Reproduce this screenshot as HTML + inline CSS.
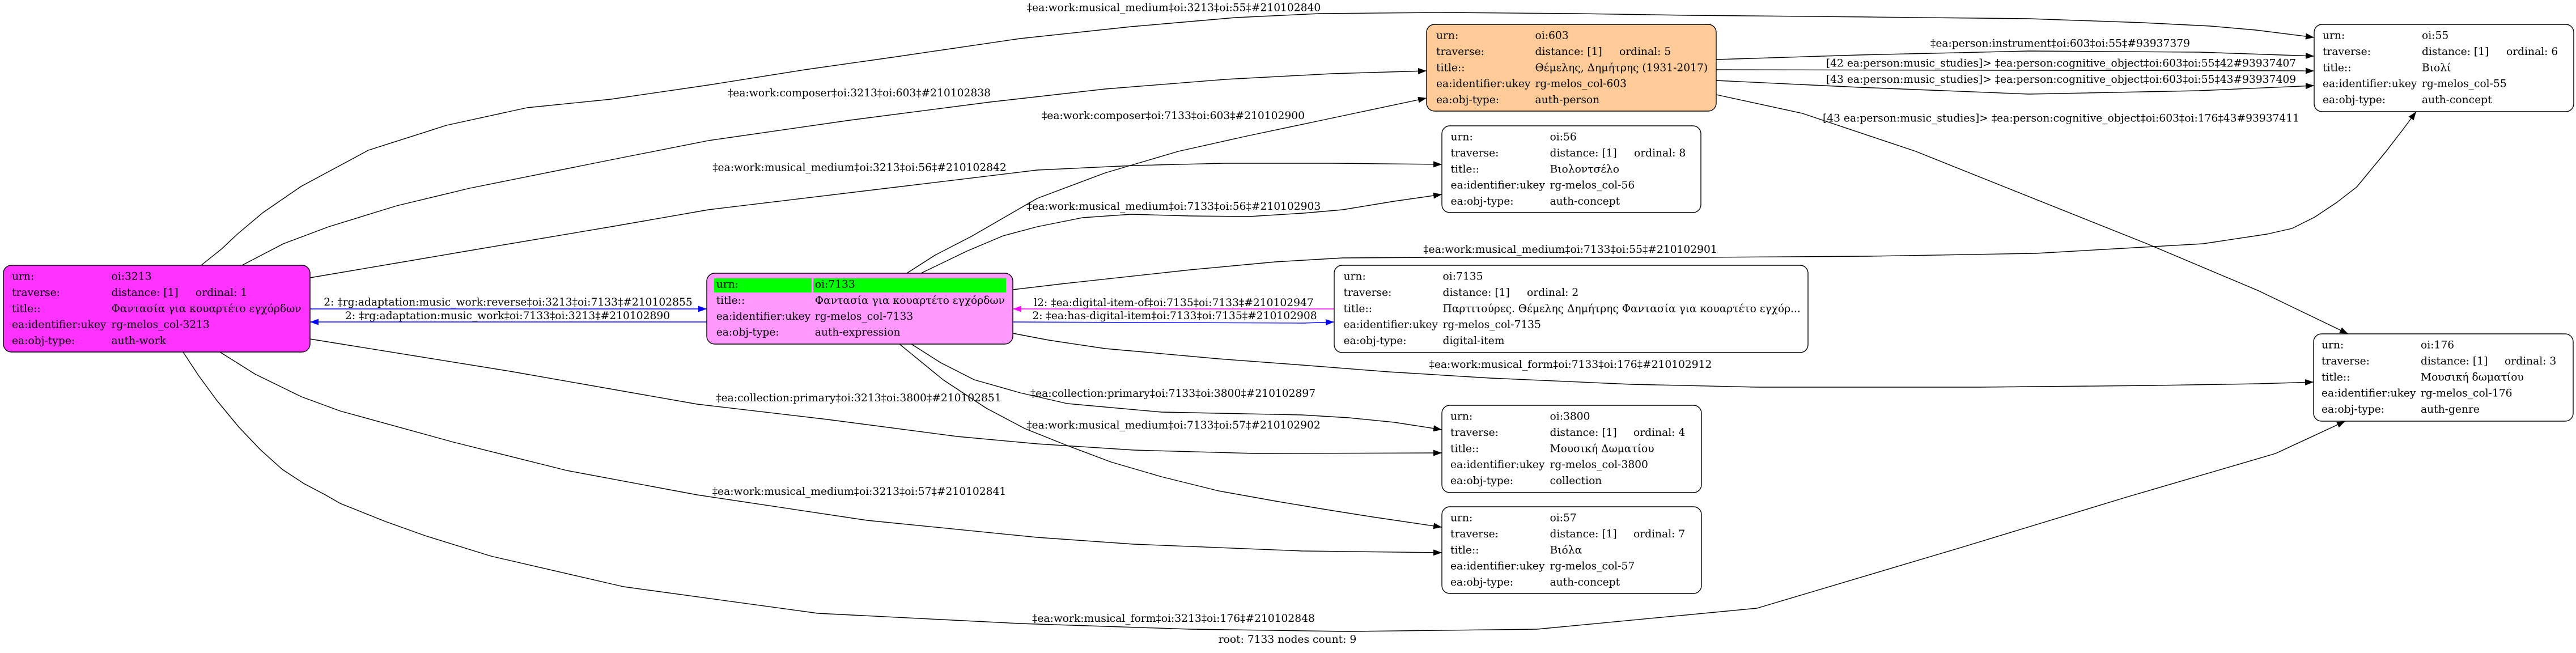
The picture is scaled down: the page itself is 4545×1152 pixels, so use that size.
<!DOCTYPE html>
<html>
<head>
<meta charset="utf-8">
<style>
  html, body { margin: 0; padding: 0; background: #ffffff; }
  svg { display: block; }
  text { font-family: "DejaVu Serif", "Liberation Serif", serif; font-size: 18.67px; fill: #000; }
  .e { fill: none; stroke: #000; stroke-width: 1.4; stroke-linejoin: round; }
  .n { stroke: #000; stroke-width: 1.4; }
  .m { text-anchor: middle; }
</style>
</head>
<body>
<svg width="4545" height="1152" viewBox="0 0 4545 1152" xmlns="http://www.w3.org/2000/svg">
  <defs>
    <marker id="ab" markerUnits="userSpaceOnUse" markerWidth="15" markerHeight="11" refX="15" refY="5.5" orient="auto">
      <path d="M0,0 L15,5.5 L0,11 z" fill="#000"/>
    </marker>
    <marker id="abl" markerUnits="userSpaceOnUse" markerWidth="15" markerHeight="11" refX="15" refY="5.5" orient="auto">
      <path d="M0,0 L15,5.5 L0,11 z" fill="#0000ff"/>
    </marker>
    <marker id="amg" markerUnits="userSpaceOnUse" markerWidth="15" markerHeight="11" refX="15" refY="5.5" orient="auto">
      <path d="M0,0 L15,5.5 L0,11 z" fill="#ff00ff"/>
    </marker>
  </defs>
  <rect x="0" y="0" width="4545" height="1152" fill="#fff"/>

  <!-- ========== EDGES ========== -->
  <path class="e" marker-end="url(#ab)" d="M355,468 L390,440 L420,412 L464,375 L531,329 L650,265 L788,221 L930,190 L1078,175 L1250,150 L1420,123 L1582,100 L1800,68 L1996,47 L2180,31 L2328,24 L2550,22 L2780,24 L2980,27 L3300,30 L3580,33 L3780,40 L3900,46 L3980,53 L4083,66"/>
  <path class="e" marker-end="url(#ab)" d="M427,468 L500,430 L580,400 L700,363 L829,332 L1078,282 L1250,248 L1500,212 L1747,180 L1950,157 L2162,140 L2350,130 L2517,125"/>
  <path class="e" marker-end="url(#ab)" d="M547,490 L700,464 L829,442 L1078,400 L1250,370 L1582,330 L1830,300 L2000,292 L2162,288 L2350,288 L2544,290"/>
  <path class="e" marker-end="url(#ab)" d="M1600,482 L1650,450 L1714,417 L1830,350 L1950,305 L2079,267 L2200,240 L2328,213 L2517,173"/>
  <path class="e" marker-end="url(#ab)" d="M1625,482 L1706,443 L1770,416 L1830,400 L1910,384 L1996,378 L2100,381 L2204,382 L2300,376 L2369,370 L2460,355 L2544,343"/>
  <path class="e" marker-end="url(#ab)" d="M1787,511 L1880,500 L2100,476 L2250,462 L2369,455 L2550,454 L3000,454 L3300,452 L3591,447 L3887,430 L4000,413 L4044,403 L4084,383 L4123,357 L4158,330 L4210,267 L4240,228 L4263,197"/>
  <path class="e" marker-end="url(#ab)" d="M1787,588 L1850,600 L1950,615 L2007,620 L2150,633 L2297,644 L2450,656 L2629,667 L2878,678 L3100,683 L3493,683 L3800,680 L3985,677 L4082,674"/>
  <path class="e" marker-end="url(#ab)" d="M1608,607 L1660,640 L1719,670 L1800,693 L1883,712 L2049,727 L2297,732 L2380,737 L2460,745 L2544,758"/>
  <path class="e" marker-end="url(#ab)" d="M1587,607 L1664,670 L1740,720 L1808,756 L1883,786 L1960,815 L2049,841 L2150,866 L2256,885 L2340,899 L2422,912 L2544,930"/>
  <path class="e" marker-end="url(#ab)" d="M547,598 L900,655 L1230,713 L1460,740 L1689,770 L1830,783 L2000,794 L2215,800 L2544,799"/>
  <path class="e" marker-end="url(#ab)" d="M388,621 L450,660 L532,700 L600,725 L800,780 L1000,830 L1230,873 L1530,918 L1830,948 L2000,960 L2297,972 L2544,975"/>
  <path class="e" marker-end="url(#ab)" d="M323,621 L350,662 L383,707 L421,753 L459,793 L498,828 L536,853 L574,873 L600,888 L680,920 L750,945 L866,981 L1100,1035 L1443,1082 L1800,1100 L2100,1110 L2380,1114 L2712,1110 L3100,1073 L3463,965 L3752,877 L4015,800 L4138,743"/>
  <path class="e" marker-end="url(#ab)" d="M3028,105 L3280,97 L3580,90 L3880,92 L4083,99"/>
  <path class="e" marker-end="url(#ab)" d="M3028,123 L4083,125"/>
  <path class="e" marker-end="url(#ab)" d="M3028,142 L3280,154 L3580,166 L3880,160 L4083,151"/>
  <path class="e" marker-end="url(#ab)" d="M3028,167 L3180,200 L3380,267 L3550,335 L3788,430 L3985,513 L4143,589"/>

  <path class="e" style="stroke:#0000ff" marker-end="url(#abl)" d="M547,545 L1247,545"/>
  <path class="e" style="stroke:#0000ff" marker-end="url(#abl)" d="M1247,568 L547,568"/>
  <path class="e" style="stroke:#ff00ff" marker-end="url(#amg)" d="M2354,545 L1787,545"/>
  <path class="e" style="stroke:#0000ff" marker-end="url(#abl)" d="M1787,568 L2300,570 L2354,568"/>

  <!-- ========== EDGE LABELS ========== -->
  <text class="m" x="2071" y="19.5">‡ea:work:musical_medium‡oi:3213‡oi:55‡#210102840</text>
  <text class="m" x="1516" y="170">‡ea:work:composer‡oi:3213‡oi:603‡#210102838</text>
  <text class="m" x="2070" y="210">‡ea:work:composer‡oi:7133‡oi:603‡#210102900</text>
  <text class="m" x="1516.5" y="301.7">‡ea:work:musical_medium‡oi:3213‡oi:56‡#210102842</text>
  <text class="m" x="2071" y="370">‡ea:work:musical_medium‡oi:7133‡oi:56‡#210102903</text>
  <text class="m" x="2770.5" y="446">‡ea:work:musical_medium‡oi:7133‡oi:55‡#210102901</text>
  <text class="m" x="896.5" y="539">2: ‡rg:adaptation:music_work:reverse‡oi:3213‡oi:7133‡#210102855</text>
  <text class="m" x="895.5" y="563">2: ‡rg:adaptation:music_work‡oi:7133‡oi:3213‡#210102890</text>
  <text class="m" x="2071" y="540">l2: ‡ea:digital-item-of‡oi:7135‡oi:7133‡#210102947</text>
  <text class="m" x="2072.5" y="563">2: ‡ea:has-digital-item‡oi:7133‡oi:7135‡#210102908</text>
  <text class="m" x="2771" y="649">‡ea:work:musical_form‡oi:7133‡oi:176‡#210102912</text>
  <text class="m" x="2069.5" y="700">‡ea:collection:primary‡oi:7133‡oi:3800‡#210102897</text>
  <text class="m" x="1515" y="708">‡ea:collection:primary‡oi:3213‡oi:3800‡#210102851</text>
  <text class="m" x="2070.5" y="756">‡ea:work:musical_medium‡oi:7133‡oi:57‡#210102902</text>
  <text class="m" x="1516" y="873">‡ea:work:musical_medium‡oi:3213‡oi:57‡#210102841</text>
  <text class="m" x="2070.5" y="1097">‡ea:work:musical_form‡oi:3213‡oi:176‡#210102848</text>
  <text class="m" x="3635" y="82.5">‡ea:person:instrument‡oi:603‡oi:55‡#93937379</text>
  <text class="m" x="3636.5" y="117.5">[42 ea:person:music_studies]&gt; ‡ea:person:cognitive_object‡oi:603‡oi:55‡42#93937407</text>
  <text class="m" x="3636.5" y="146">[43 ea:person:music_studies]&gt; ‡ea:person:cognitive_object‡oi:603‡oi:55‡43#93937409</text>
  <text class="m" x="3636.5" y="214.5">[43 ea:person:music_studies]&gt; ‡ea:person:cognitive_object‡oi:603‡oi:176‡43#93937411</text>
  <text class="m" x="2271.5" y="1134">root: 7133 nodes count: 9</text>

  <!-- ========== NODES ========== -->
  <rect class="n" x="6" y="468" width="541" height="153" rx="14" fill="#ff33ff"/>
  <text x="21" y="493.7">urn:</text><text x="196.5" y="493.7">oi:3213</text>
  <text x="21" y="522">traverse:</text><text x="196.5" y="522">distance: [1]</text><text x="345" y="522">ordinal: 1</text>
  <text x="21" y="550.3">title::</text><text x="196.5" y="550.3">Φαντασία για κουαρτέτο εγχόρδων</text>
  <text x="21" y="578.6">ea:identifier:ukey</text><text x="196.5" y="578.6">rg-melos_col-3213</text>
  <text x="21" y="606.9">ea:obj-type:</text><text x="196.5" y="606.9">auth-work</text>

  <rect class="n" x="1247" y="482" width="540" height="125" rx="14" fill="#ff99ff"/>
  <rect x="1260" y="491" width="172" height="25" fill="#00ff00"/>
  <rect x="1435" y="491" width="340" height="25" fill="#00ff00"/>
  <text x="1263.7" y="507.7">urn:</text><text x="1437.8" y="507.7">oi:7133</text>
  <text x="1263.7" y="536">title::</text><text x="1437.8" y="536">Φαντασία για κουαρτέτο εγχόρδων</text>
  <text x="1263.7" y="564">ea:identifier:ukey</text><text x="1437.8" y="564">rg-melos_col-7133</text>
  <text x="1263.7" y="592">ea:obj-type:</text><text x="1437.8" y="592">auth-expression</text>

  <rect class="n" x="2517" y="43" width="511" height="153" rx="14" fill="#ffcc99"/>
  <text x="2534" y="68.7">urn:</text><text x="2708.5" y="68.7">oi:603</text>
  <text x="2534" y="97">traverse:</text><text x="2708.5" y="97">distance: [1]</text><text x="2857" y="97">ordinal: 5</text>
  <text x="2534" y="125.3">title::</text><text x="2708.5" y="125.3">Θέμελης, Δημήτρης (1931-2017)</text>
  <text x="2534" y="153.6">ea:identifier:ukey</text><text x="2708.5" y="153.6">rg-melos_col-603</text>
  <text x="2534" y="181.9">ea:obj-type:</text><text x="2708.5" y="181.9">auth-person</text>

  <rect class="n" x="2544" y="222" width="457" height="153" rx="14" fill="#fff"/>
  <text x="2559.5" y="247.7">urn:</text><text x="2734.5" y="247.7">oi:56</text>
  <text x="2559.5" y="276">traverse:</text><text x="2734.5" y="276">distance: [1]</text><text x="2883" y="276">ordinal: 8</text>
  <text x="2559.5" y="304.3">title::</text><text x="2734.5" y="304.3">Βιολοντσέλο</text>
  <text x="2559.5" y="332.6">ea:identifier:ukey</text><text x="2734.5" y="332.6">rg-melos_col-56</text>
  <text x="2559.5" y="360.9">ea:obj-type:</text><text x="2734.5" y="360.9">auth-concept</text>

  <rect class="n" x="2354" y="468" width="836" height="154" rx="14" fill="#fff"/>
  <text x="2370.5" y="493.7">urn:</text><text x="2545.5" y="493.7">oi:7135</text>
  <text x="2370.5" y="522">traverse:</text><text x="2545.5" y="522">distance: [1]</text><text x="2694" y="522">ordinal: 2</text>
  <text x="2370.5" y="550.3">title::</text><text x="2545.5" y="550.3">Παρτιτούρες. Θέμελης Δημήτρης Φαντασία για κουαρτέτο εγχόρ...</text>
  <text x="2370.5" y="578.6">ea:identifier:ukey</text><text x="2545.5" y="578.6">rg-melos_col-7135</text>
  <text x="2370.5" y="606.9">ea:obj-type:</text><text x="2545.5" y="606.9">digital-item</text>

  <rect class="n" x="2544" y="715" width="458" height="154" rx="14" fill="#fff"/>
  <text x="2559" y="740.7">urn:</text><text x="2734.5" y="740.7">oi:3800</text>
  <text x="2559" y="769">traverse:</text><text x="2734.5" y="769">distance: [1]</text><text x="2882" y="769">ordinal: 4</text>
  <text x="2559" y="797.3">title::</text><text x="2734.5" y="797.3">Μουσική Δωματίου</text>
  <text x="2559" y="825.6">ea:identifier:ukey</text><text x="2734.5" y="825.6">rg-melos_col-3800</text>
  <text x="2559" y="853.9">ea:obj-type:</text><text x="2734.5" y="853.9">collection</text>

  <rect class="n" x="2544" y="894" width="458" height="153" rx="14" fill="#fff"/>
  <text x="2559" y="919.7">urn:</text><text x="2734.5" y="919.7">oi:57</text>
  <text x="2559" y="948">traverse:</text><text x="2734.5" y="948">distance: [1]</text><text x="2882" y="948">ordinal: 7</text>
  <text x="2559" y="976.3">title::</text><text x="2734.5" y="976.3">Βιόλα</text>
  <text x="2559" y="1004.6">ea:identifier:ukey</text><text x="2734.5" y="1004.6">rg-melos_col-57</text>
  <text x="2559" y="1032.9">ea:obj-type:</text><text x="2734.5" y="1032.9">auth-concept</text>

  <rect class="n" x="4083" y="43" width="458" height="154" rx="14" fill="#fff"/>
  <text x="4098" y="68.7">urn:</text><text x="4273" y="68.7">oi:55</text>
  <text x="4098" y="97">traverse:</text><text x="4273" y="97">distance: [1]</text><text x="4422" y="97">ordinal: 6</text>
  <text x="4098" y="125.3">title::</text><text x="4273" y="125.3">Βιολί</text>
  <text x="4098" y="153.6">ea:identifier:ukey</text><text x="4273" y="153.6">rg-melos_col-55</text>
  <text x="4098" y="181.9">ea:obj-type:</text><text x="4273" y="181.9">auth-concept</text>

  <rect class="n" x="4082" y="589" width="458" height="154" rx="14" fill="#fff"/>
  <text x="4096" y="614.7">urn:</text><text x="4271" y="614.7">oi:176</text>
  <text x="4096" y="643">traverse:</text><text x="4271" y="643">distance: [1]</text><text x="4419" y="643">ordinal: 3</text>
  <text x="4096" y="671.3">title::</text><text x="4271" y="671.3">Μουσική δωματίου</text>
  <text x="4096" y="699.6">ea:identifier:ukey</text><text x="4271" y="699.6">rg-melos_col-176</text>
  <text x="4096" y="727.9">ea:obj-type:</text><text x="4271" y="727.9">auth-genre</text>
</svg>
</body>
</html>
